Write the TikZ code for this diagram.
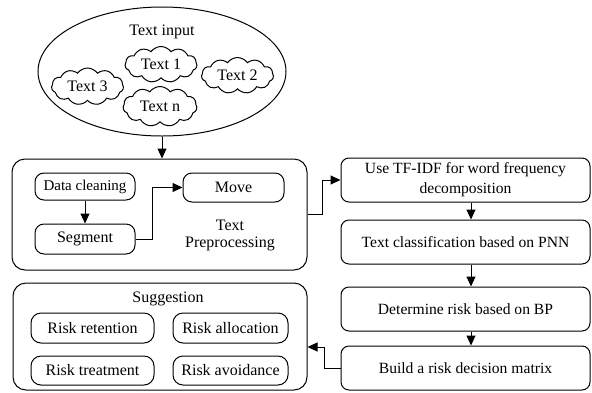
\documentclass[tikz,border=0pt]{standalone}
\usepackage{fontspec}
\setmainfont{Liberation Serif}
\usetikzlibrary{arrows.meta,shapes.geometric,shapes.symbols}
\tikzset{
  base/.style={draw=black,line width=1pt,font=\fontsize{16}{18}\selectfont,text=black},
  bigbox/.style={base,rectangle,rounded corners=13pt,inner sep=0pt},
  smallbox/.style={base,rectangle,rounded corners=9pt,inner sep=0pt},
  stepbox/.style={base,rectangle,rounded corners=8pt,inner sep=0pt,minimum width=249pt,minimum height=44pt,align=center,font=\fontsize{15.6}{18}\selectfont},
  cloudnode/.style={base,cloud,cloud puffs=11,cloud puff arc=110,cloud ignores aspect,inner sep=0pt,minimum width=72pt,minimum height=36pt},
  lbl/.style={font=\fontsize{16}{17}\selectfont,inner sep=0pt,align=center},
  arr/.style={line width=1pt,-{Triangle[length=10pt,width=9pt]}}
}
\begin{document}
\begin{tikzpicture}[x=1pt,y=-1pt]
\useasboundingbox (0,0) rectangle (592,392);
% input ellipse
\node[base,ellipse,minimum width=248pt,minimum height=129pt,inner sep=0pt] (input) at (162,71.5) {};
\node[lbl] (inlabel) at (162,32) {Text input};
\node[cloudnode] (t1) at (161,64.5) {Text 1};
\node[cloudnode] (t2) at (237.5,75.5) {Text 2};
\node[cloudnode,minimum height=37pt] (t3) at (87.5,86.5) {Text 3};
\node[cloudnode,minimum width=74pt,minimum height=40pt] (tn) at (160,106.5) {Text n};
% preprocessing
\node[bigbox,minimum width=295pt,minimum height=111pt] (pre) at (159.5,214.5) {};
\node[smallbox,minimum width=100pt,minimum height=27pt] (dc) at (85,186.5) {\fontsize{15}{16}\selectfont Data cleaning};
\node[smallbox,minimum width=100pt,minimum height=30pt] (seg) at (85,239) {Segment};
\node[smallbox,minimum width=101pt,minimum height=29pt] (move) at (233.5,187.5) {Move};
\node[lbl] (prelabel) at (230,235) {Text\\Preprocessing};
% right column
\node[stepbox] (tfidf) at (465.5,180) {Use TF-IDF for word frequency\\[2pt]decomposition};
\node[stepbox] (pnn) at (465.5,242) {Text classification based on PNN};
\node[stepbox] (bp) at (465.5,309) {Determine risk based on BP};
\node[stepbox] (mat) at (465.5,368) {Build a risk decision matrix};
% suggestion
\node[bigbox,minimum width=294pt,minimum height=107pt] (sug) at (160,336.5) {};
\node[lbl] (suglabel) at (168,299) {Suggestion};
\node[smallbox,rounded corners=10pt,minimum width=123pt,minimum height=30pt] (rr) at (92.5,328) {Risk retention};
\node[smallbox,rounded corners=10pt,minimum width=115pt,minimum height=30pt] (ra) at (230.5,328) {Risk allocation};
\node[smallbox,rounded corners=10pt,minimum width=123pt,minimum height=29pt] (rt) at (92.5,370.5) {Risk treatment};
\node[smallbox,rounded corners=10pt,minimum width=115pt,minimum height=29pt] (rv) at (230.5,370.5) {Risk avoidance};
% connectors
\draw[arr] (input.south) -- (input.south |- pre.north);
\draw[arr] (dc.south) -- (seg.north);
\draw[arr] (seg.east) -- ++(17,0) |- (move.west);
\draw[arr] (pre.east) -- ++(15,0) |- (tfidf.west);
\draw[arr] ([xshift=5.5pt]tfidf.south) -- ([xshift=5.5pt]pnn.north);
\draw[arr] ([xshift=5.5pt]pnn.south) -- ([xshift=5.5pt]bp.north);
\draw[arr] ([xshift=5.5pt]bp.south) -- ([xshift=5.5pt]mat.north);
\draw[arr] (mat.west) -- ++(-16,0) |- ([yshift=-10.5pt]sug.east);
\end{tikzpicture}
\end{document}
